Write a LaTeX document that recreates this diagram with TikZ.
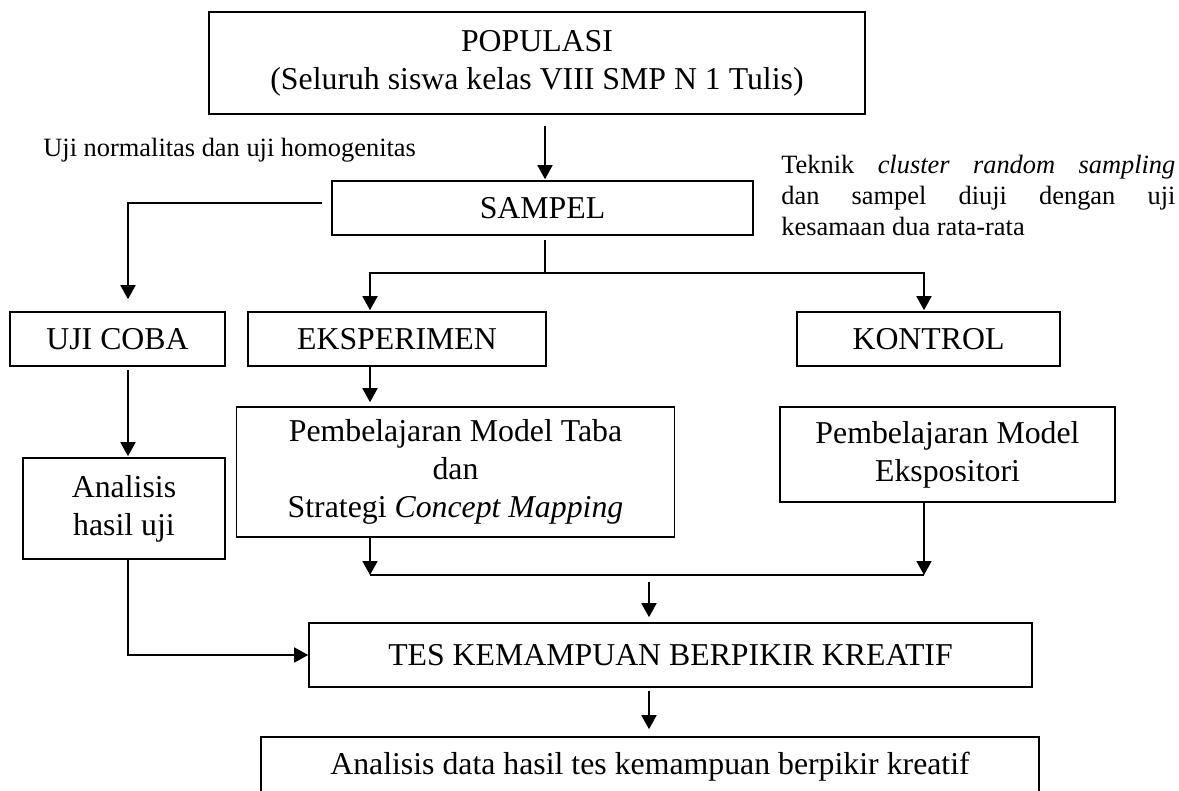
\documentclass[tikz,border=0pt]{standalone}
\usepackage{fontspec}
\setmainfont{Liberation Serif}
\usetikzlibrary{arrows.meta,calc}
\newcommand\mainsz{\fontsize{15.9}{19}\selectfont}
\newcommand\smallsz{\fontsize{13.2}{15.5}\selectfont}
\begin{document}
\begin{tikzpicture}[x=0.5pt,y=-0.5pt,
  box/.style={draw,line width=0.8pt,inner sep=0pt,align=center,font=\mainsz},
  lbl/.style={inner sep=0pt,font=\smallsz},
  conn/.style={line width=0.9pt},
  arr/.style={conn,-{Triangle[width=7.5pt,length=7pt]}}]
\clip (0,0) rectangle (1179,791);
\fill[white] (0,0) rectangle (1179,791);

% boxes
\node[box,minimum width=328pt,minimum height=51pt] (pop) at (537,63) {POPULASI\\(Seluruh siswa kelas VIII SMP N 1 Tulis)};
\node[box,minimum width=210.5pt,minimum height=27pt] (samp) at (542.5,208) {SAMPEL};
\node[box,minimum width=107.5pt,minimum height=27pt] (uji) at (117.5,339) {UJI COBA};
\node[box,minimum width=149pt,minimum height=27pt] (eks) at (397,339) {EKSPERIMEN};
\node[box,minimum width=131.5pt,minimum height=27pt] (kon) at (928.5,339) {KONTROL};
\node[box,minimum width=101pt,minimum height=50.5pt] (anal) at (124,508.5) {Analisis\\hasil uji};
\node[box,minimum width=219pt,minimum height=65pt] (taba) at (455.5,472) {Pembelajaran Model Taba\\dan\\Strategi \textit{Concept Mapping}};
\node[box,minimum width=167.5pt,minimum height=47.5pt] (eksp) at (947.5,454.5) {Pembelajaran Model\\Ekspositori};
\node[box,minimum width=361.5pt,minimum height=32pt] (tes) at (670.5,655) {TES KEMAMPUAN BERPIKIR KREATIF};
\node[box,minimum width=389pt,minimum height=30pt] (final) at (650,767) {Analisis data hasil tes kemampuan berpikir kreatif};

% labels
\node[lbl,anchor=west] (lblA) at (43,150) {Uji normalitas dan uji homogenitas};
\node[lbl,anchor=north west,text width=197pt,align=justify] (lblB) at (781,155)
  {Teknik \textit{cluster random sampling}\linebreak dan sampel diuji dengan uji\linebreak kesamaan dua rata-rata};

% guide coordinates
\coordinate (cx1) at (545,0);
\coordinate (cl) at (128,0);
\coordinate (cm) at (370,0);
\coordinate (cr) at (924,0);
\coordinate (cc) at (649,0);
\coordinate (j1) at (545,273);
\coordinate (j2) at (649,575);

% connectors
\draw[arr,shorten <=5.5pt,shorten >=0.5pt] (pop.south -| cx1) -- (samp.north -| cx1);
\draw[arr,shorten >=6pt] ([xshift=-4.5pt,yshift=2.5pt]samp.west) -| (uji.north -| cl);
\draw[conn,shorten <=2pt] (samp.south -| cx1) -- (j1);
\draw[arr,shorten >=0.5pt] (j1) -| (eks.north -| cm);
\draw[arr,shorten >=0.5pt] (j1) -| (kon.north -| cr);
\draw[arr,shorten <=1.5pt,shorten >=0.5pt] (uji.south -| cl) -- (anal.north -| cl);
\draw[arr,shorten >=2pt] (eks.south -| cm) -- (taba.north -| cm);
\draw[arr] (taba.south -| cm) -- (j2 -| cm);
\draw[arr] (eksp.south -| cr) -- (j2 -| cr);
\draw[conn] (j2 -| cm) -- (j2 -| cr);
\draw[arr,shorten <=3.5pt,shorten >=2.5pt] (j2 -| cc) -- (tes.north -| cc);
\draw[arr] (anal.south -| cl) |- (tes.west);
\draw[arr,shorten <=1.5pt,shorten >=3.5pt] (tes.south -| cc) -- (final.north -| cc);
\end{tikzpicture}
\end{document}
